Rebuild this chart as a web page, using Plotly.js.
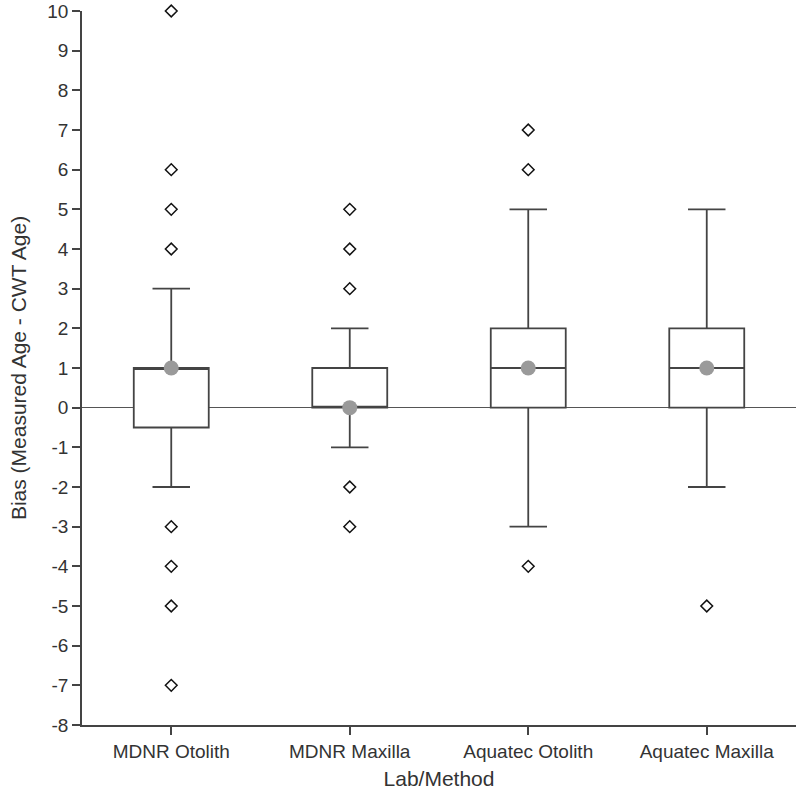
<!DOCTYPE html>
<html>
<head>
<meta charset="utf-8">
<script src="https://cdn.plot.ly/plotly-3.0.1.min.js"></script>
<style>html,body{margin:0;padding:0;background:#fff;}#chart{width:800px;height:797px;}</style>
</head>
<body>
<div id="chart"></div>
<script>
const categories = ["MDNR Otolith", "MDNR Maxilla", "Aquatec Otolith", "Aquatec Maxilla"];
const q1 = [-0.5, 0, 0, 0];
const median = [1, 0, 1, 1];
const q3 = [1, 1, 2, 2];
const lowerWhisker = [-2, -1, -3, -2];
const upperWhisker = [3, 2, 5, 5];
const centerDot = [1, 0, 1, 1];
const outliers = [
  [10, 6, 5, 4, -3, -4, -5, -7],
  [5, 4, 3, -2, -3],
  [7, 6, -4],
  [-5]
];
const yTickVals = [-8, -7, -6, -5, -4, -3, -2, -1, 0, 1, 2, 3, 4, 5, 6, 7, 8, 9, 10];
const yTickText = ["-8", "-7", "-6", "-5", "-4", "-3", "-2", "-1", "0", "1", "2", "3", "4", "5", "6", "7", "8", "9", "10"];

const outX = [], outY = [];
outliers.forEach((arr, i) => arr.forEach(v => { outX.push(categories[i]); outY.push(v); }));

const lineColor = "#444444";
const textColor = "#333333";
const font = "Liberation Sans, Arial, sans-serif";

const traces = [
  {
    type: "box",
    x: categories,
    q1: q1, median: median, q3: q3,
    lowerfence: lowerWhisker, upperfence: upperWhisker,
    fillcolor: "#ffffff",
    line: {color: lineColor, width: 1.8},
    whiskerwidth: 0.5,
    boxpoints: false,
    hoverinfo: "skip",
    showlegend: false
  },
  {
    type: "scatter", mode: "markers",
    x: outX, y: outY,
    cliponaxis: false,
    marker: {symbol: "diamond-open", size: 9, color: "#111111", line: {width: 1.5, color: "#111111"}},
    showlegend: false, hoverinfo: "skip"
  },
  {
    type: "scatter", mode: "markers",
    x: categories, y: centerDot,
    cliponaxis: false,
    marker: {symbol: "circle", size: 15, color: "#9a9a9a"},
    showlegend: false, hoverinfo: "skip"
  }
];

const layout = {
  width: 800, height: 797,
  margin: {l: 82, r: 4, t: 11, b: 72},
  paper_bgcolor: "#ffffff", plot_bgcolor: "#ffffff",
  font: {family: font, size: 19, color: textColor},
  boxgap: 0.4,
  xaxis: {
    type: "category",
    showgrid: false, zeroline: false,
    showline: true, linecolor: lineColor, linewidth: 1.8,
    ticks: "outside", ticklen: 8, tickwidth: 1.8, tickcolor: lineColor,
    tickfont: {family: font, size: 19, color: textColor},
    automargin: false,
    title: {text: "Lab/Method", font: {family: font, size: 21, color: textColor}, standoff: 11}
  },
  yaxis: {
    range: [-8, 10],
    tickmode: "array", tickvals: yTickVals, ticktext: yTickText,
    showgrid: false,
    zeroline: true, zerolinecolor: "#555555", zerolinewidth: 1.5,
    showline: true, linecolor: lineColor, linewidth: 1.8,
    ticks: "outside", ticklen: 8, tickwidth: 1.8, tickcolor: lineColor,
    tickfont: {family: font, size: 19, color: textColor},
    automargin: false,
    title: {text: "Bias (Measured Age - CWT Age)", font: {family: font, size: 21, color: textColor}, standoff: 15}
  }
};

Plotly.newPlot("chart", traces, layout, {displayModeBar: false, staticPlot: true});
</script>
</body>
</html>
